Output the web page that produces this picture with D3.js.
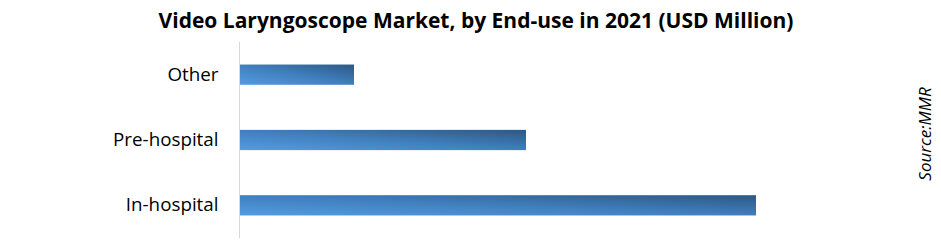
<!DOCTYPE html>
<html>
<head>
<meta charset="utf-8">
<script src="https://cdn.jsdelivr.net/npm/d3@7"></script>
<style>
  body { margin: 0; background: #fff; }
</style>
</head>
<body>
<script>
// values (relative units)
const categories = ['Other', 'Pre-hospital', 'In-hospital']
const values = [114, 286, 516]
const title = 'Video Laryngoscope Market, by End-use in 2021 (USD Million)'
const source = 'Source:MMR'

const WIDTH = 941
const HEIGHT = 250

const svg = d3.select('body').append('svg')
  .attr('width', WIDTH).attr('height', HEIGHT)

// gradient like the office chart fill
const grad = svg.append('defs').append('linearGradient')
  .attr('id', 'barFill')
  .attr('x1', 0).attr('y1', 1).attr('x2', 1).attr('y2', 0)
grad.append('stop').attr('offset', '0%').attr('stop-color', '#539ce0')
grad.append('stop').attr('offset', '50%').attr('stop-color', '#407fbd')
grad.append('stop').attr('offset', '100%').attr('stop-color', '#2c5885')

const x = d3.scaleLinear()
  .domain([0, d3.max(values)])
  .range([240, 756])

const y = d3.scaleBand()
  .domain(categories)
  .range([42, 238])
  .paddingInner(0.69)
  .paddingOuter(0.345)

svg.append('text')
  .attr('x', 476).attr('y', 28)
  .attr('text-anchor', 'middle')
  .style('font-family', '"Open Sans", sans-serif')
  .style('font-weight', 'bold')
  .style('font-size', '21px')
  .attr('fill', '#000')
  .text(title)

svg.selectAll('rect.bar')
  .data(values)
  .enter()
  .append('rect')
  .attr('class', 'bar')
  .attr('x', x(0))
  .attr('y', (d, i) => y(categories[i]))
  .attr('width', d => x(d) - x(0))
  .attr('height', y.bandwidth())
  .attr('fill', 'url(#barFill)')

// category axis, only the line and labels
const axis = svg.append('g')
  .attr('transform', 'translate(239.5,0)')
  .call(d3.axisLeft(y).tickSize(0).tickPadding(21))
axis.select('.domain').attr('stroke', '#d9d9d9').attr('d', 'M0,42V238')
axis.selectAll('text')
  .style('font-family', '"Open Sans", sans-serif')
  .style('font-size', '18.8px')
  .attr('fill', '#000')

svg.append('text')
  .attr('transform', 'translate(931,134) rotate(-90)')
  .attr('text-anchor', 'middle')
  .style('font-family', '"Open Sans", sans-serif')
  .style('font-style', 'italic')
  .style('font-size', '17px')
  .attr('fill', '#000')
  .text(source)
</script>
</body>
</html>
